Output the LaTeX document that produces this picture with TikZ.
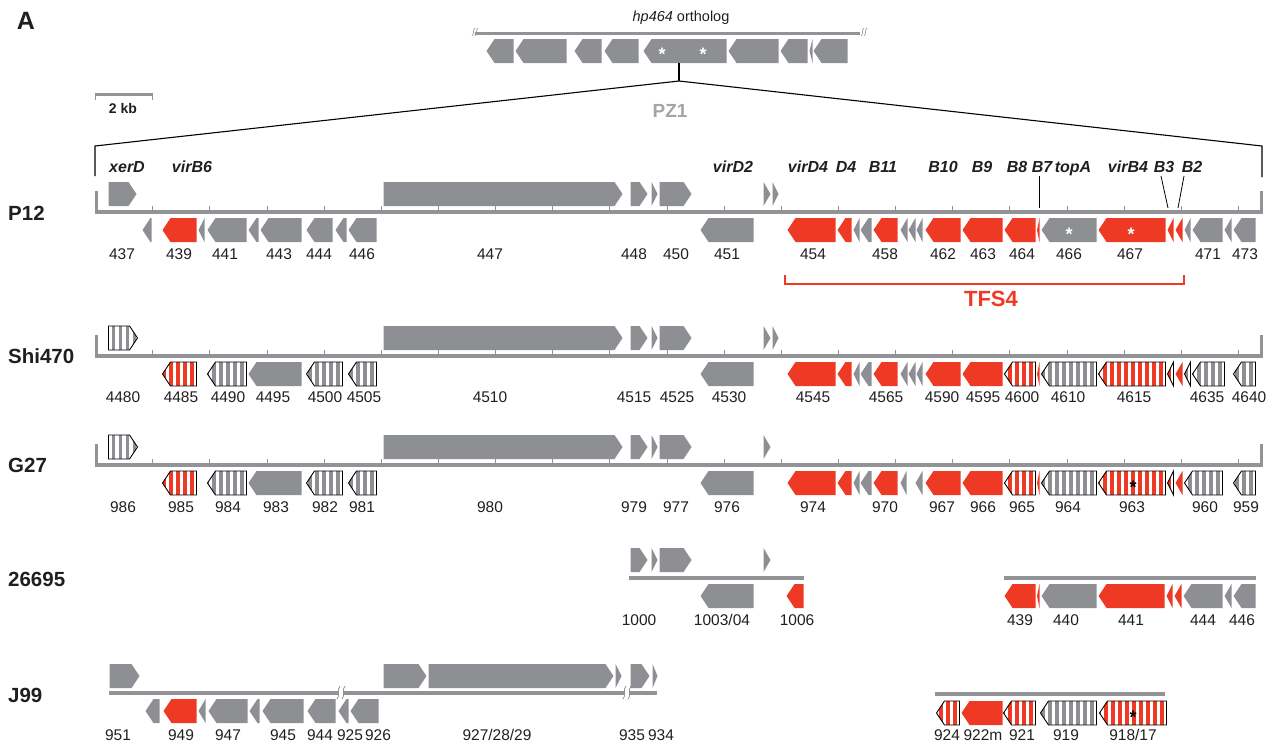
\documentclass[tikz,border=0pt]{standalone}
\usepackage{fontspec}
\setmainfont{Liberation Sans}
\definecolor{gg}{RGB}{142,143,147}
\definecolor{rr}{RGB}{238,58,36}
\definecolor{bb}{RGB}{146,147,150}
\definecolor{pz}{RGB}{163,164,167}
\newcounter{nd}
\newcommand\gSet[2]{\pgfmathsetmacro\gXa{#1+0.5}\pgfmathsetmacro\gXb{#2-0.5}\pgfmathsetmacro\gTip{min(8,\gXb-\gXa)}}
\newcommand\gR[4]{\gSet{#1}{#2}\fill[#4] (\gXa,#3) -- ({\gXb-\gTip},#3) -- (\gXb,#3+12) -- ({\gXb-\gTip},#3+24) -- (\gXa,#3+24) -- cycle;}
\newcommand\gL[4]{\gSet{#1}{#2}\fill[#4] (\gXb,#3) -- ({\gXa+\gTip},#3) -- (\gXa,#3+12) -- ({\gXa+\gTip},#3+24) -- (\gXb,#3+24) -- cycle;}
\newcommand\hL[4]{\gSet{#1}{#2}%
 \begin{scope}
 \clip (\gXb,#3) -- ({\gXa+\gTip},#3) -- (\gXa,#3+12) -- ({\gXa+\gTip},#3+24) -- (\gXb,#3+24) -- cycle;
 \fill[white] (\gXa,#3) rectangle (\gXb,#3+24);
 \pgfmathtruncatemacro\gN{(#2-#1)/7+1}
 \foreach \k in {0,...,\gN}{\fill[#4] ({\gXb-3-3.9-7*\k},#3) rectangle ++(3.9,24);}
 \end{scope}
 \draw[line width=0.9pt,line join=miter] (\gXb,#3) -- ({\gXa+\gTip},#3) -- (\gXa,#3+12) -- ({\gXa+\gTip},#3+24) -- (\gXb,#3+24) -- cycle;}
\newcommand\hR[4]{\gSet{#1}{#2}%
 \begin{scope}
 \clip (\gXa,#3) -- ({\gXb-\gTip},#3) -- (\gXb,#3+12) -- ({\gXb-\gTip},#3+24) -- (\gXa,#3+24) -- cycle;
 \fill[white] (\gXa,#3) rectangle (\gXb,#3+24);
 \pgfmathtruncatemacro\gN{(#2-#1)/7+1}
 \foreach \k in {0,...,\gN}{\fill[#4] ({\gXa+3+7*\k},#3) rectangle ++(3.9,24);}
 \end{scope}
 \draw[line width=0.9pt,line join=miter] (\gXa,#3) -- ({\gXb-\gTip},#3) -- (\gXb,#3+12) -- ({\gXb-\gTip},#3+24) -- (\gXa,#3+24) -- cycle;}
\newcommand\bbLine[3]{\fill[bb] (#1,#3-2) rectangle (#2,#3+2);}
\newcommand\bbTicks[1]{\foreach \k in {0,...,19}{\draw[bb,line width=1pt] ({152.7+57.15*\k},#1-1.5) -- ({152.7+57.15*\k},#1-6);}}
\newcommand\bbEnds[1]{\fill[bb] (95,#1+2) rectangle (98,#1-21);\fill[bb] (1260,#1+2) rectangle (1263,#1-21);}
\newcommand\lab[3]{\stepcounter{nd}\node[num] (n\thend) at (#1,#2) {#3};}
\newcommand\gnm[2]{\stepcounter{nd}\node[gname] (g\thend) at (#1,172) {#2};}
\begin{document}
\begin{tikzpicture}[x=1pt,y=-1pt,
 num/.style={font=\fontsize{15.5}{16}\selectfont, text=black!88, inner sep=0pt, anchor=base},
 gname/.style={font=\bfseries\itshape\fontsize{16}{16}\selectfont, text=black!88, inner sep=0pt, anchor=base},
 rowlab/.style={font=\bfseries\fontsize{20.5}{21}\selectfont, text=black!88, inner sep=0pt, anchor=west},
 ast/.style={font=\bfseries\fontsize{18}{18}\selectfont, inner sep=0pt, anchor=base},
 lead/.style={line width=0.8pt}]
\useasboundingbox (0,0) rectangle (1278,745);
% panel letter
\node[font=\bfseries\fontsize{25}{25}\selectfont, text=black!88, inner sep=0pt] (A) at (26,21) {A};
% hp464 ortholog
\node[font=\fontsize{14.5}{15}\selectfont, text=black!88, inner sep=0pt] (hp) at (681,18) {\itshape hp464\upshape\ ortholog};
\fill[bb] (475,31.5) rectangle (860,35);
\foreach \xx in {472,861}{
 \draw[bb,line width=0.6pt] (\xx,36) .. controls (\xx+3,33) and (\xx,31) .. (\xx+3,28);
 \draw[bb,line width=0.6pt] (\xx+3,36) .. controls (\xx+6,33) and (\xx+3,31) .. (\xx+6,28);}
\foreach \a/\b in {486/514,515/567,574/602,604/639,643/727,728/779,780/808,809/813,813/848}{\gL{\a}{\b}{39}{gg}}
\node[ast,text=white] (s1) at (662,60) {*};
\node[ast,text=white] (s2) at (703,60) {*};
\coordinate (stemtop) at (679,63);
\coordinate (apex) at (679,81);
\coordinate (lt) at (95,146);
\coordinate (lb) at (95,176);
\coordinate (rt) at (1262,146);
\coordinate (rb) at (1262,177);
\draw[line width=1.1pt] (stemtop) -- (apex);
\draw[line width=1.1pt] (lb) -- (lt) -- (apex) -- (rt) -- (rb);
\node[font=\bfseries\fontsize{19}{19}\selectfont, text=pz, inner sep=0pt] (pz1) at (670,111) {PZ1};
% scale bar
\draw[bb,line width=3pt] (95,94) -- (153,94);
\draw[bb,line width=1pt] (95.5,94) -- (95.5,100) (152.5,94) -- (152.5,100);
\node[font=\bfseries\fontsize{14}{14}\selectfont, text=black!88, inner sep=0pt] (kb) at (123,108) {2 kb};
% gene names
\gnm{127}{xerD}\gnm{192}{virB6}\gnm{733}{virD2}\gnm{808}{virD4}\gnm{846}{D4}\gnm{883}{B11}
\gnm{943}{B10}\gnm{982}{B9}\gnm{1017}{B8}\gnm{1042}{B7}\gnm{1073}{topA}\gnm{1128}{virB4}\gnm{1164}{B3}\gnm{1192}{B2}
\coordinate (b7a) at (1039,176); \coordinate (b7b) at (1039,208);
\coordinate (b3a) at (1161,176); \coordinate (b3b) at (1168,208);
\coordinate (b2a) at (1184,176); \coordinate (b2b) at (1178,208);
\draw[lead] (b7a) -- (b7b); \draw[lead] (b3a) -- (b3b); \draw[lead] (b2a) -- (b2b);
% row labels
\node[rowlab] (rP12) at (8,213) {P12};
\node[rowlab] (rShi) at (8,356) {Shi470};
\node[rowlab] (rG27) at (8,465) {G27};
\node[rowlab] (r266) at (8,579) {26695};
\node[rowlab] (rJ99) at (8,695) {J99};
%%%%%% P12
\bbLine{95}{1263}{212}\bbTicks{212}\bbEnds{212}
\foreach \a/\b in {108/137,383/623,630/648,651/658,659/692,763/771,772/779}{\gR{\a}{\b}{182}{gg}}
\foreach \a/\b/\c in {142/152/gg,162/197/rr,198/205/gg,207/247/gg,248/259/gg,260/302/gg,306/333/gg,335/347/gg,348/377/gg,700/754/gg,787/836/rr,837/852/rr,853/860/gg,860/872/gg,873/898/rr,900/908/gg,908/916/gg,916/923/gg,925/961/rr,962/1003/rr,1004/1036/rr,1036.5/1040/rr,1041/1097/gg,1098/1166/rr,1167/1174/rr,1175/1183/rr,1184/1191/gg,1192/1223/gg,1224/1232/gg,1233/1256/gg}{\gL{\a}{\b}{218}{\c}}
\node[ast,text=white] (s3) at (1069,240) {*};
\node[ast,text=white] (s4) at (1131,240) {*};
\foreach \x/\t in {122/437,179/439,225/441,279/443,319/444,362/446,490/447,634/448,676/450,727/451,813/454,885/458,943/462,983/463,1022/464,1069/466,1130/467,1208/471,1245/473}{\lab{\x}{259.5}{\t}}
% TFS4
\coordinate (tf1) at (785,275); \coordinate (tf2) at (785,284); \coordinate (tf3) at (1184,284); \coordinate (tf4) at (1184,275);
\draw[rr,line width=1.2pt] (tf1) -- (tf2) -- (tf3) -- (tf4);
\node[font=\bfseries\fontsize{22}{22}\selectfont, text=rr, inner sep=0pt] (tfs) at (991,299) {TFS4};
%%%%%% Shi470
\bbLine{95}{1263}{356}\bbTicks{356}\bbEnds{356}
\hR{108}{138}{326}{gg}
\foreach \a/\b in {383/623,630/648,651/658,659/692,763/771,772/779}{\gR{\a}{\b}{326}{gg}}
\foreach \a/\b/\c in {248/302/gg,700/754/gg,787/836/rr,837/852/rr,853/860/gg,860/872/gg,873/898/rr,900/908/gg,908/916/gg,916/923/gg,925/961/rr,962/1003/rr,1036.5/1040/rr,1175/1183/rr}{\gL{\a}{\b}{362}{\c}}
\foreach \a/\b/\c in {162/197/rr,207/247/gg,306/343/gg,348/377/gg,1004/1036/rr,1041/1097/gg,1098/1166/rr,1167/1174/rr,1184/1191/gg,1192/1225/gg,1233/1256/gg}{\hL{\a}{\b}{362}{\c}}
\foreach \x/\t in {123/4480,181/4485,228/4490,273/4495,325/4500,364/4505,490/4510,634/4515,677/4525,729/4530,813/4545,886/4565,942/4590,983/4595,1022/4600,1068/4610,1134/4615,1207/4635,1249/4640}{\lab{\x}{402.5}{\t}}
%%%%%% G27
\bbLine{95}{1263}{465}\bbTicks{465}\bbEnds{465}
\hR{108}{138}{435}{gg}
\foreach \a/\b in {383/623,630/648,651/658,659/692,763/771}{\gR{\a}{\b}{435}{gg}}
\foreach \a/\b/\c in {248/302/gg,700/754/gg,787/836/rr,837/852/rr,853/860/gg,860/872/gg,873/898/rr,900/907/gg,915/923/gg,925/961/rr,962/1003/rr,1036.5/1040/rr,1175/1183/rr}{\gL{\a}{\b}{471}{\c}}
\foreach \a/\b/\c in {162/197/rr,207/247/gg,306/343/gg,348/377/gg,1004/1036/rr,1041/1097/gg,1098/1166/rr,1167/1174/rr,1184/1223/gg,1233/1256/gg}{\hL{\a}{\b}{471}{\c}}
\node[ast,text=black] (s5) at (1133,493) {*};
\foreach \x/\t in {123/986,181/985,228/984,276/983,325/982,362/981,490/980,634/979,676/977,727/976,813/974,885/970,942/967,983/966,1022/965,1068/964,1132/963,1205/960,1246/959}{\lab{\x}{512}{\t}}
%%%%%% 26695
\bbLine{629}{804}{578}
\bbLine{1004}{1256}{578}
\foreach \a/\b in {630/648,651/658,659/692,763/771}{\gR{\a}{\b}{548}{gg}}
\foreach \a/\b/\c in {700/754/gg,786/804/rr,1004/1036/rr,1036.5/1040/rr,1041/1097/gg,1098/1165/rr,1166/1173/rr,1174/1182/rr,1183/1223/gg,1224/1232/gg,1233/1256/gg}{\gL{\a}{\b}{584}{\c}}
\foreach \x/\t in {639/1000,722/1003\slash 04,797/1006,1020/439,1066/440,1131/441,1203/444,1242/446}{\lab{\x}{625.5}{\t}}
%%%%%% J99
\bbLine{109}{657}{693}
\foreach \xx in {338,624}{
 \fill[white] (\xx,690) rectangle (\xx+6,696);
 \draw[bb,line width=0.7pt] (\xx-1,699) .. controls (\xx+3,695) and (\xx-2,690) .. (\xx+2,686);
 \draw[bb,line width=0.7pt] (\xx+4,699) .. controls (\xx+8,695) and (\xx+3,690) .. (\xx+7,686);}
\foreach \a/\b in {109/140,383/427,428/614,615/622,630/650,652/658}{\gR{\a}{\b}{664}{gg}}
\foreach \a/\b/\c in {145/160/gg,163/197/rr,198/206/gg,208/248/gg,249/260/gg,262/304/gg,307/336/gg,338/349/gg,350/379/gg}{\gL{\a}{\b}{699}{\c}}
\bbLine{935}{1165}{694}
\gL{961}{1003}{701}{rr}
\foreach \a/\b/\c in {936/960/rr,1003/1036/rr,1040/1097/gg,1099/1167/rr}{\hL{\a}{\b}{701}{\c}}
\node[ast,text=black] (s6) at (1133,723) {*};
\foreach \x/\t in {118/951,181/949,228/947,283/945,320/944,350/925,378/926,497/927\slash 28\slash 29,632/935,661/934,947/924,983/922m,1022/921,1066/919,1133/918\slash 17}{\lab{\x}{740.5}{\t}}
\end{tikzpicture}
\end{document}
